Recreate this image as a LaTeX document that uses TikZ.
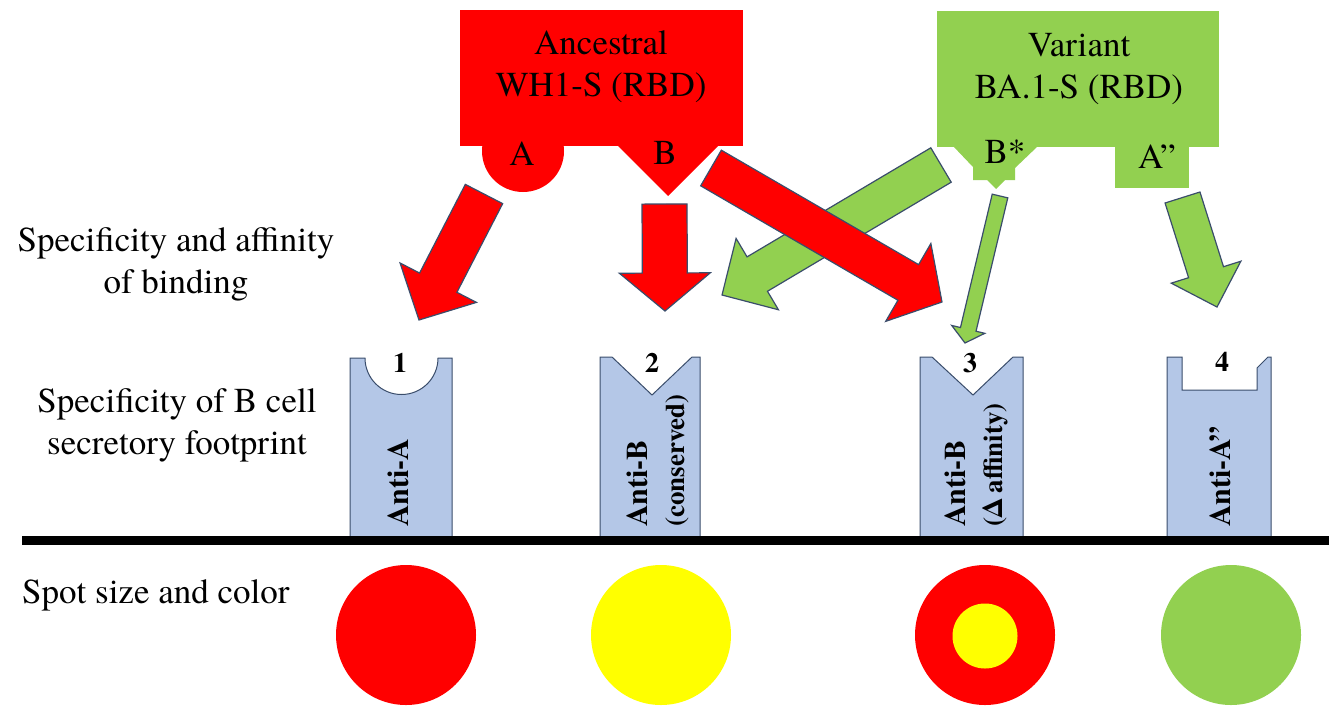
\documentclass[tikz,border=0pt]{standalone}
\usepackage{fontspec}
\setmainfont{texgyretermes}[Extension=.otf,UprightFont=*-regular,BoldFont=*-bold,ItalicFont=*-italic,BoldItalicFont=*-bolditalic]
\usepackage{tikz}
\usetikzlibrary{calc,positioning}
\definecolor{wtred}{HTML}{FF0000}
\definecolor{vargreen}{HTML}{92D050}
\definecolor{spotyellow}{HTML}{FFFF00}
\definecolor{cellblue}{HTML}{B4C7E7}
\definecolor{edge}{HTML}{3A4D6B}
\tikzset{bigtext/.style={font=\fontsize{35}{42}\selectfont,align=center,inner sep=0pt},cell/.style={fill=cellblue,draw=edge,line width=1pt},cellnum/.style={font=\fontsize{28}{30}\selectfont\bfseries,inner sep=0pt},celltag/.style={rotate=90,anchor=west,align=left,inner sep=0pt,font=\fontsize{30}{37}\selectfont\bfseries},spot/.style={circle,minimum size=140pt,inner sep=0pt},redarrow/.style={fill=wtred,draw=edge,line width=1.2pt},greenarrow/.style={fill=vargreen,draw=edge,line width=1.2pt}}
\newcommand{\blockarrow}[6]{%
  \coordinate (ba-h) at ($(#2)!#5!(#1)$);
  \path[#6] ($(#1)!#3!90:(#2)$) -- ($(ba-h)!#3!90:(#2)$) -- ($(ba-h)!#4!90:(#2)$) -- (#2)
    -- ($(ba-h)!#4!-90:(#2)$) -- ($(ba-h)!#3!-90:(#2)$) -- ($(#1)!#3!-90:(#2)$) -- cycle;}

\begin{document}
\begin{tikzpicture}[x=1pt,y=-1pt]
\useasboundingbox (0,0) rectangle (1329,713);
\fill[wtred] (460,10) rectangle (743,146);
\fill[wtred] (523,151) circle[radius=41pt];
\fill[wtred] (617,145) -- (668,196) -- (719,145) -- cycle;
\fill[vargreen] (937,11) rectangle (1219,147);
\fill[vargreen] (1115,146) rectangle (1189,188);
\fill[vargreen] (953,146) -- (973,167) -- (973,180) -- (987,180) -- (996,189) -- (1005,180) -- (1015,180) -- (1015,168) -- (1038,146) -- cycle;
\node[bigtext] (wt) at (601,67) {Ancestral\\WH1-S (RBD)};
\node[bigtext] (var) at (1079,69) {Variant\\BA.1-S (RBD)};
\node[bigtext] (epA) at (522,154) {A};
\node[bigtext] (epB) at (665,153) {B};
\node[bigtext] (epBs) at (1005,152) {B*};
\node[bigtext] (epAdd) at (1157,157) {A”};
\node[bigtext] (rowbind) at (176,264) {Specificity and affinity\\of binding};
\node[bigtext] (rowcell) at (177,425) {Specificity of B cell\\secretory footprint};
\node[bigtext,anchor=base west] (rowspot) at (22,603) {Spot size and color};
\path[cell] (350,537) -- (350,358) -- (365,358) arc[start angle=180,end angle=360,radius=36.5pt] -- (452,358) -- (452,537) -- cycle;
\path[cell] (600,537) -- (600,357) -- (612,357) -- (652,395) -- (692,357) -- (700,357) -- (700,537) -- cycle;
\path[cell] (920,537) -- (920,357) -- (932,357) -- (973,395) -- (1013,357) -- (1023,357) -- (1023,537) -- cycle;
\path[cell] (1167,537) -- (1167,357) -- (1182,357) -- (1182,390) -- (1257,390) -- (1257,368) -- (1268,357) -- (1271,357) -- (1271,537) -- cycle;
\node[cellnum] (n1) at (400,363) {1};
\node[cellnum] (n2) at (652,363) {2};
\node[cellnum] (n3) at (970,363) {3};
\node[cellnum] (n4) at (1222,362) {4};
\node[celltag] (tag1) at (398,527) {Anti-A};
\node[celltag] (tag2) at (658,527) {Anti-B\\{\fontsize{27}{37}\selectfont(conserved)}};
\node[celltag] (tag3) at (976,527) {Anti-B\\{\fontsize{27}{37}\selectfont(Δ affinity)}};
\node[celltag] (tag4) at (1220,527) {Anti-A”};
\draw[line width=9pt] (22,540) -- (1329,540);
\node[spot,fill=wtred] (spot1) at (406,635) {};
\node[spot,fill=spotyellow] (spot2) at (661,635) {};
\node[spot,fill=wtred] (spot3) at (985,635) {};
\node[spot,fill=spotyellow,minimum size=65pt] (spot3c) at (985,636) {};
\node[spot,fill=vargreen] (spot4) at (1231,635) {};
\coordinate (a1s) at (484,194); \coordinate (a1e) at (419,320);
\coordinate (a2s) at (664.5,204); \coordinate (a2e) at (665,311);
\coordinate (a3s) at (711,168); \coordinate (a3e) at (942,302);
\coordinate (g1s) at (941,165); \coordinate (g1e) at (722,295);
\coordinate (g2s) at (1000,196); \coordinate (g2e) at (965,343);
\coordinate (g3s) at (1182.5,197.5); \coordinate (g3e) at (1217,307);
\blockarrow{g1s}{g1e}{20pt}{41.5pt}{41pt}{greenarrow}
\blockarrow{g2s}{g2e}{8pt}{17pt}{14pt}{greenarrow}
\blockarrow{g3s}{g3e}{18.3pt}{36.5pt}{36.5pt}{greenarrow}
\blockarrow{a1s}{a1e}{21pt}{43pt}{42pt}{redarrow}
\blockarrow{a2s}{a2e}{22.5pt}{45.5pt}{38pt}{redarrow}
\blockarrow{a3s}{a3e}{20.6pt}{45pt}{39pt}{redarrow}
\end{tikzpicture}
\end{document}
